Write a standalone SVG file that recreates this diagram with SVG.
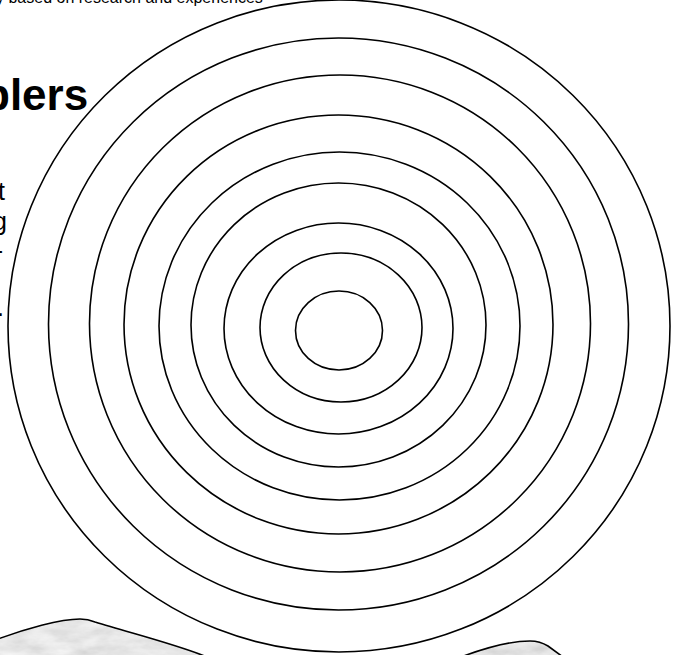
<svg xmlns="http://www.w3.org/2000/svg" width="684" height="655" viewBox="0 0 684 655">
  <style>
    .ring { fill: none; stroke: #000; stroke-width: 1.6; }
    .edge { fill: none; stroke: #000; stroke-width: 1.6; }
    .txt { font-family: "Liberation Sans", Arial, sans-serif; fill: #000; }
  </style>
  <defs>
    <filter id="marble" x="0" y="0" width="1" height="1" filterUnits="objectBoundingBox">
      <feTurbulence type="fractalNoise" baseFrequency="0.03 0.07" numOctaves="4" seed="7" result="n"/>
      <feColorMatrix in="n" type="matrix" values="0.4 0 0 0 0.6  0.4 0 0 0 0.6  0.4 0 0 0 0.6  0 0 0 0 1" result="g"/>
      <feComposite in="g" in2="SourceGraphic" operator="in"/>
    </filter>
  </defs>
  <rect width="684" height="655" fill="#fff"/>

  <g id="texts">
    <text class="txt" x="-4" y="3" font-size="16">y based on research and experiences</text>
    <text class="txt" x="-17" y="110" font-size="44" font-weight="bold">blers</text>
    <text class="txt" x="5" y="200" font-size="25" text-anchor="end">t</text>
    <text class="txt" x="7" y="230" font-size="25" text-anchor="end">g</text>
    <text class="txt" x="3" y="259" font-size="25" text-anchor="end">-</text>
    <text class="txt" x="4" y="316" font-size="25" text-anchor="end">.</text>
  </g>

  <g id="rings">
    <ellipse class="ring" cx="339" cy="326" rx="331" ry="326"/>
    <ellipse class="ring" cx="338.5" cy="324" rx="290" ry="286"/>
    <ellipse class="ring" cx="340" cy="323.5" rx="250.5" ry="248.5"/>
    <ellipse class="ring" cx="338.5" cy="324.5" rx="214.5" ry="209.5"/>
    <ellipse class="ring" cx="339.5" cy="326" rx="180.5" ry="174"/>
    <ellipse class="ring" cx="338.5" cy="325" rx="147.5" ry="142"/>
    <ellipse class="ring" cx="338.5" cy="328.5" rx="114.5" ry="105.5"/>
    <ellipse class="ring" cx="341" cy="327.5" rx="81" ry="74.5"/>
    <ellipse class="ring" cx="339" cy="330.5" rx="43.5" ry="39.5"/>
  </g>

  <g id="stone-left">
    <path d="M -2,639 C 25,629 60,619 80,619 Q 88,619 95,622 C 130,633 175,644 207,657 L -2,657 Z" fill="#000" filter="url(#marble)"/>
    <path class="edge" d="M -2,639 C 25,629 60,619 80,619 Q 88,619 95,622 C 130,633 175,644 207,657"/>
  </g>
  <g id="stone-right">
    <path d="M 461,657 C 485,648 510,641 530,641 Q 540,641 548,646 L 563,657 Z" fill="#000" filter="url(#marble)"/>
    <path class="edge" d="M 461,657 C 485,648 510,641 530,641 Q 540,641 548,646 L 563,657"/>
  </g>
</svg>
